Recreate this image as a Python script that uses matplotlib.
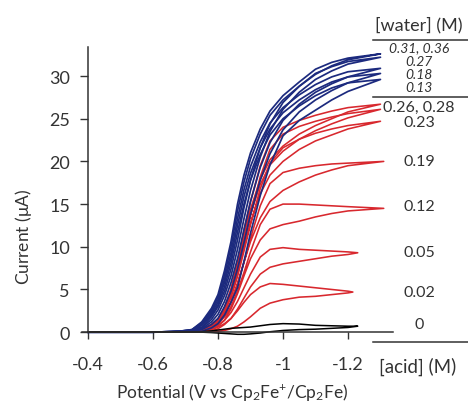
import matplotlib
matplotlib.use("Agg")
import matplotlib.pyplot as plt

plt.rcParams['font.family'] = ['Lato', 'DejaVu Sans']
plt.rcParams['mathtext.default'] = 'regular'

# potential grid (V vs Cp2Fe+/Cp2Fe), forward scan direction
potential = [-0.40, -0.60, -0.68, -0.72, -0.75, -0.78, -0.80, -0.82, -0.84, -0.86,
             -0.88, -0.90, -0.93, -0.96, -1.00, -1.05, -1.10, -1.15, -1.20]

# no acid (black)
acid_0_fwd = [0, 0, 0, 0, 0.05, 0.15, 0.25, 0.35, 0.45, 0.5, 0.55, 0.6, 0.75, 0.9, 1.0, 0.95, 0.8, 0.75, 0.7]
acid_0_rev = [0, 0, 0, 0, 0, -0.05, -0.1, -0.15, -0.2, -0.25, -0.25, -0.2, -0.1, 0.05, 0.2, 0.3, 0.35, 0.45, 0.55]
acid_0_tip = (-1.23, 0.7)

# acid series (red), currents in uA
acid_002_fwd = [0, 0, 0, 0, 0.1, 0.3, 0.6, 1.0, 1.6, 2.5, 3.5, 4.4, 5.3, 5.7, 5.6, 5.4, 5.2, 5.0, 4.8]
acid_002_rev = [0, 0, 0, 0, 0, 0.05, 0.1, 0.2, 0.4, 0.7, 1.2, 1.8, 2.8, 3.4, 3.8, 4.1, 4.2, 4.4, 4.6]
acid_002_tip = (-1.215, 4.7)

acid_005_fwd = [0, 0, 0, 0, 0.15, 0.4, 0.8, 1.4, 2.3, 3.6, 5.2, 6.8, 8.8, 9.7, 9.9, 9.7, 9.6, 9.5, 9.4]
acid_005_rev = [0, 0, 0, 0, 0.05, 0.15, 0.4, 0.9, 1.6, 2.7, 4.0, 5.3, 6.8, 7.6, 8.0, 8.3, 8.6, 8.9, 9.1]
acid_005_tip = (-1.23, 9.3)

acid_012_fwd = [0, 0, 0, 0.05, 0.2, 0.6, 1.0, 1.8, 3.0, 4.8, 7.0, 9.4, 12.6, 14.4, 15.0, 15.0, 14.9, 14.8, 14.7]
acid_012_rev = [0, 0, 0, 0, 0.1, 0.3, 0.7, 1.4, 2.7, 4.5, 6.6, 8.6, 10.8, 12.1, 12.6, 13.0, 13.5, 13.9, 14.2]
acid_012_tip = (-1.31, 14.5)

acid_019_fwd = [0, 0, 0, 0.05, 0.25, 0.7, 1.2, 2.1, 3.5, 5.6, 8.2, 11.0, 14.8, 17.4, 18.7, 19.2, 19.5, 19.7, 19.8]
acid_019_rev = [0, 0, 0, 0, 0.1, 0.4, 0.9, 1.9, 3.5, 5.7, 8.2, 10.6, 13.4, 15.3, 16.6, 17.6, 18.4, 19.0, 19.5]
acid_019_tip = (-1.31, 20.0)

acid_023_fwd = [0, 0, 0, 0.08, 0.3, 0.8, 1.3, 2.4, 4.0, 6.5, 9.5, 12.6, 16.8, 19.8, 21.6, 22.6, 23.3, 23.8, 24.2]
acid_023_rev = [0, 0, 0, 0, 0.15, 0.5, 1.2, 2.4, 4.4, 7.0, 10.0, 12.8, 16.2, 18.4, 20.0, 21.4, 22.4, 23.1, 23.8]
acid_023_tip = (-1.30, 24.7)

acid_026_fwd = [0, 0, 0, 0.1, 0.35, 0.9, 1.5, 2.7, 4.4, 7.1, 10.3, 13.6, 18.2, 21.4, 23.2, 24.1, 24.7, 25.2, 25.6]
acid_026_rev = [0, 0, 0, 0, 0.15, 0.55, 1.3, 2.7, 4.8, 7.6, 10.8, 13.8, 17.3, 19.6, 21.2, 22.6, 23.6, 24.4, 25.1]
acid_026_tip = (-1.30, 26.1)

acid_028_fwd = [0, 0, 0, 0.1, 0.35, 0.9, 1.6, 2.8, 4.7, 8.0, 12.0, 15.3, 19.5, 22.4, 24.0, 24.8, 25.4, 25.9, 26.3]
acid_028_rev = [0, 0, 0, 0, 0.15, 0.6, 1.4, 2.9, 5.1, 8.0, 11.3, 14.4, 17.9, 20.2, 21.8, 23.2, 24.2, 25.0, 25.8]
acid_028_tip = (-1.30, 26.7)

# water series (blue)
water_013_fwd = [0, 0, 0.05, 0.2, 0.8, 2.0, 3.2, 5.3, 8.1, 11.7, 15.0, 17.8, 20.8, 23.1, 25.0, 26.5, 27.7, 28.6, 29.2]
water_013_rev = [0, 0, 0.02, 0.05, 0.1, 0.5, 1.0, 2.0, 3.5, 5.2, 8.3, 11.6, 16.0, 19.6, 23.0, 24.8, 26.0, 27.2, 28.2]
water_013_tip = (-1.30, 29.6)

water_018_fwd = [0, 0, 0.1, 0.2, 0.9, 2.2, 3.5, 5.8, 8.7, 12.5, 15.9, 18.6, 21.6, 23.8, 25.7, 27.2, 28.4, 29.3, 29.9]
water_018_rev = [0, 0, 0.05, 0.1, 0.3, 0.9, 1.6, 3.0, 4.8, 7.4, 10.5, 13.8, 17.8, 20.9, 23.7, 25.8, 27.2, 28.3, 29.2]
water_018_tip = (-1.30, 30.3)

water_027_fwd = [0, 0, 0.1, 0.25, 1.0, 2.4, 3.8, 6.2, 9.3, 13.3, 16.7, 19.4, 22.3, 24.5, 26.3, 27.8, 29.0, 29.9, 30.5]
water_027_rev = [0, 0, 0.05, 0.15, 0.4, 1.2, 2.1, 3.6, 5.8, 8.6, 12.0, 15.3, 19.3, 22.2, 24.8, 26.7, 28.1, 29.1, 29.9]
water_027_tip = (-1.30, 30.9)

water_031_fwd = [0, 0, 0.1, 0.3, 1.1, 2.6, 4.1, 6.7, 10.0, 14.2, 17.6, 20.3, 23.2, 25.4, 27.2, 28.8, 30.3, 31.1, 31.7]
water_031_rev = [0, 0, 0.05, 0.15, 0.5, 1.5, 2.6, 4.3, 6.6, 9.7, 13.3, 16.6, 20.5, 23.5, 26.1, 28.1, 29.6, 30.6, 31.4]
water_031_tip = (-1.30, 32.2)

water_036_fwd = [0, 0, 0.1, 0.3, 1.2, 2.8, 4.4, 7.2, 10.6, 15.0, 18.4, 21.0, 23.8, 25.9, 27.7, 29.3, 30.8, 31.6, 32.1]
water_036_rev = [0, 0, 0.05, 0.2, 0.6, 1.8, 3.0, 4.8, 7.4, 10.8, 14.6, 17.8, 21.6, 24.4, 26.9, 28.8, 30.2, 31.2, 31.9]
water_036_tip = (-1.30, 32.6)

acid_curves = [(acid_002_fwd, acid_002_rev, acid_002_tip),
               (acid_005_fwd, acid_005_rev, acid_005_tip),
               (acid_012_fwd, acid_012_rev, acid_012_tip),
               (acid_019_fwd, acid_019_rev, acid_019_tip),
               (acid_023_fwd, acid_023_rev, acid_023_tip),
               (acid_026_fwd, acid_026_rev, acid_026_tip),
               (acid_028_fwd, acid_028_rev, acid_028_tip)]
water_curves = [(water_013_fwd, water_013_rev, water_013_tip),
                (water_018_fwd, water_018_rev, water_018_tip),
                (water_027_fwd, water_027_rev, water_027_tip),
                (water_031_fwd, water_031_rev, water_031_tip),
                (water_036_fwd, water_036_rev, water_036_tip)]

# right-hand legend labels (pixel rows in the figure)
water_labels = ['0.31, 0.36', '0.27', '0.18', '0.13']
water_label_rows = [48, 62, 75, 88]
acid_labels = ['0.26, 0.28', '0.23', '0.19', '0.12', '0.05', '0.02', '0']
acid_label_rows = [108, 123, 162, 207, 253, 293, 325]

RED = '#d8282e'
BLUE = '#1c2a7e'
TXT = '#333333'


def cv_loop(fwd, rev, tip):
    x = potential + [tip[0]] + potential[::-1]
    y = fwd + [tip[1]] + rev[::-1]
    return x, y


W, H = 468, 406
fig = plt.figure(figsize=(W / 100, H / 100), dpi=100)

# axes box in pixels: left 82, right 393, top 48, bottom 340
ax = fig.add_axes([82 / W, (H - 340) / H, (393 - 82) / W, (340 - 48) / H])
ax.set_xlim(-0.3815, -1.3385)
ax.set_ylim(-0.8, 33.4)

for fwd, rev, tip in acid_curves:
    x, y = cv_loop(fwd, rev, tip)
    ax.plot(x, y, color=RED, lw=1.15, clip_on=False)
for fwd, rev, tip in water_curves:
    x, y = cv_loop(fwd, rev, tip)
    ax.plot(x, y, color=BLUE, lw=1.25, clip_on=False)
x, y = cv_loop(acid_0_fwd, acid_0_rev, acid_0_tip)
ax.plot(x, y, color='black', lw=1.1, clip_on=False)

ax.spines['top'].set_visible(False)
ax.spines['right'].set_visible(False)
ax.spines['left'].set_position(('data', -0.4))
ax.spines['bottom'].set_position(('data', 0))
ax.spines['left'].set_bounds(0, 33.4)
for s in ['left', 'bottom']:
    ax.spines[s].set_color(TXT)
    ax.spines[s].set_linewidth(1.1)

ax.set_xticks([-0.4, -0.6, -0.8, -1.0, -1.2])
ax.set_xticklabels(['-0.4', '-0.6', '-0.8', '-1', '-1.2'])
ax.set_yticks([0, 5, 10, 15, 20, 25, 30])
ax.tick_params(axis='x', direction='out', length=5, width=1, pad=12, labelsize=13, colors=TXT)
ax.tick_params(axis='y', direction='out', length=6, width=1, pad=7, labelsize=13, colors=TXT)

fig.text(232 / W, 1 - 393 / H, r'Potential (V vs Cp$_2$Fe$^{+}$/Cp$_2$Fe)',
         ha='center', va='center', fontsize=12.5, color=TXT)
fig.text(24 / W, 1 - 237 / H, r'Current ($\mu$A)', rotation=90,
         ha='center', va='center', fontsize=12.5, color=TXT)

# overlay for the concentration labels on the right
ov = fig.add_axes([0, 0, 1, 1])
ov.set_xlim(0, W)
ov.set_ylim(H, 0)
ov.axis('off')
ov.patch.set_alpha(0)

ov.text(419, 25, '[water] (M)', ha='center', va='center', fontsize=13, color=TXT)
ov.plot([373, 468], [41, 41], color=TXT, lw=1.1)
for lab, row in zip(water_labels, water_label_rows):
    ov.text(419, row, lab, ha='center', va='center', fontsize=10, style='italic', color=TXT)
ov.plot([373, 468], [98, 98], color=TXT, lw=1.1)
for lab, row in zip(acid_labels, acid_label_rows):
    ov.text(419, row, lab, ha='center', va='center', fontsize=11.5, color=TXT)
ov.plot([373, 468], [343, 343], color=TXT, lw=1.1)
ov.text(418, 367, '[acid] (M)', ha='center', va='center', fontsize=13.5, color=TXT)

fig.savefig('out.png', dpi=100)
